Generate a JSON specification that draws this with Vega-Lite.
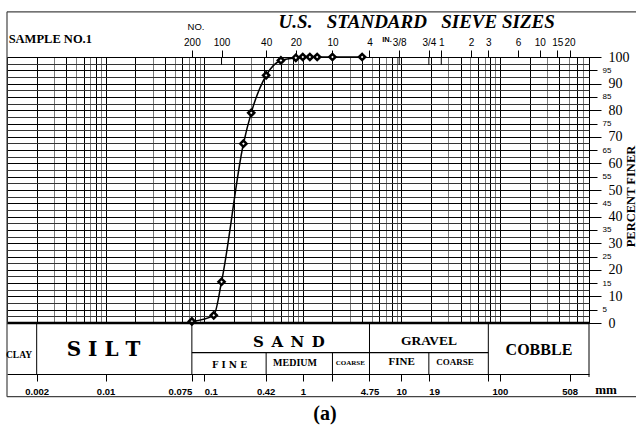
{
  "$schema": "https://vega.github.io/schema/vega-lite/v6.json",
  "width": 582,
  "height": 266,
  "autosize": "none",
  "padding": {"left": 7, "top": 57, "right": 47, "bottom": 107},
  "background": "white",
  "config": {
    "view": {"stroke": "black", "strokeWidth": 1},
    "axis": {"labelColor": "black", "tickColor": "black", "domainColor": "black", "titleColor": "black"}
  },
  "datasets": {
    "sieve": [
      {"size_mm": 0.075, "percent_finer": 0.6},
      {"size_mm": 0.125, "percent_finer": 2.9},
      {"size_mm": 0.15, "percent_finer": 15.5},
      {"size_mm": 0.25, "percent_finer": 67.4},
      {"size_mm": 0.3, "percent_finer": 79},
      {"size_mm": 0.425, "percent_finer": 93.1},
      {"size_mm": 0.6, "percent_finer": 98.7},
      {"size_mm": 0.85, "percent_finer": 99.7},
      {"size_mm": 1.0, "percent_finer": 100},
      {"size_mm": 1.18, "percent_finer": 100},
      {"size_mm": 1.4, "percent_finer": 100},
      {"size_mm": 2.0, "percent_finer": 100},
      {"size_mm": 4.0, "percent_finer": 100}
    ],
    "wide_labels": [
      {"label": "S I L T", "zone": "silt", "size_mm": 0.00952, "pct": -10},
      {"label": "S\u2002A\u2002N\u2002D", "zone": "sand", "size_mm": 0.724, "pct": -7.25},
      {"label": "F I N E", "zone": "sandfine", "size_mm": 0.1806, "pct": -15.8}
    ],
    "serif_labels": [
      {"label": "CLAY", "zone": "clay", "size_mm": 0.001323, "pct": -12.1},
      {"label": "MEDIUM", "zone": "sandmed", "size_mm": 0.834, "pct": -15.0},
      {"label": "COARSE", "zone": "sandcoarse", "size_mm": 3.03, "pct": -14.85},
      {"label": "GRAVEL", "zone": "gravel", "size_mm": 19.05, "pct": -6.95},
      {"label": "FINE", "zone": "gravelfine", "size_mm": 10.07, "pct": -14.5},
      {"label": "COARSE", "zone": "gravelcoarse", "size_mm": 34.97, "pct": -14.5},
      {"label": "COBBLE", "zone": "cobble", "size_mm": 248.6, "pct": -10.3},
      {"label": "mm", "zone": "unit", "size_mm": 1189, "pct": -25.2},
      {"label": "(a)", "zone": "caption", "size_mm": 1.68, "pct": -34.2},
      {"label": "SAMPLE NO.1", "zone": "sample", "size_mm": 0.00275, "pct": 106.8}
    ],
    "full_bounds": [{"size_mm": 0.002}, {"size_mm": 0.075}, {"size_mm": 4.75}, {"size_mm": 76.2}],
    "half_bounds": [{"size_mm": 0.425}, {"size_mm": 2.0}, {"size_mm": 19}],
    "long_ticks": [{"size_mm": 0.15}, {"size_mm": 9.5}, {"size_mm": 19}, {"size_mm": 25.4}]
  },
  "layer": [
    {
      "data": {"name": "sieve"},
      "mark": {"type": "point", "opacity": 0},
      "encoding": {
        "x": {
          "field": "size_mm", "type": "quantitative",
          "scale": {"type": "log", "domain": [0.001, 800], "nice": false},
          "axis": {
            "orient": "bottom", "title": null, "labels": false, "ticks": false, "domain": false,
            "grid": true, "gridWidth": 1, "gridOpacity": 1,
            "values": [0.001,0.002,0.003,0.004,0.005,0.006,0.007,0.008,0.009,0.01,0.02,0.03,0.04,0.05,0.06,0.07,0.08,0.09,0.1,0.2,0.3,0.4,0.5,0.6,0.7,0.8,0.9,1,2,3,4,5,6,7,8,9,10,20,30,40,50,60,70,80,90,100,200,300,400,500,600,700,800],
            "gridColor": {
              "condition": {"test": "indexof([0.003,0.005,0.007,0.009,0.03,0.05,0.07,0.09,0.3,0.5,0.7,0.9,3,5,7,9,30,50,70,90,300,500,700], datum.value) >= 0", "value": "#7a7a7a"},
              "value": "black"
            }
          }
        },
        "y": {
          "field": "percent_finer", "type": "quantitative",
          "scale": {"domain": [0, 100], "nice": false, "zero": false},
          "axis": {
            "orient": "right", "title": null, "labels": false, "ticks": false, "domain": false,
            "grid": true, "gridColor": "#333", "gridWidth": 1,
            "values": [2.5,7.5,12.5,17.5,22.5,27.5,32.5,37.5,42.5,47.5,52.5,57.5,62.5,67.5,72.5,77.5,82.5,87.5,92.5,97.5]
          }
        }
      }
    },
    {
      "data": {"name": "sieve"},
      "mark": {"type": "line", "color": "black", "strokeWidth": 1.5, "interpolate": "monotone"},
      "encoding": {
        "x": {
          "field": "size_mm", "type": "quantitative",
          "axis": {
            "orient": "bottom", "offset": 51, "title": null, "grid": false,
            "domain": true, "domainColor": "black", "domainWidth": 1,
            "tickSize": 7, "tickColor": "black",
            "values": [0.002, 0.01, 0.075, 0.1, 0.42, 1, 2, 4.75, 10, 19, 76.2, 100, 508],
            "labelExpr": "datum.value == 2 || datum.value == 76.2 ? '' : '' + datum.value",
            "labelFont": "Liberation Sans", "labelFontWeight": "bold", "labelFontSize": 9.5,
            "labelPadding": 5, "labelOverlap": false, "labelFlush": false, "labelBound": false,
            "labelAlign": {
              "condition": [
                {"test": "datum.value == 0.075", "value": "right"},
                {"test": "datum.value == 0.1 || datum.value == 19", "value": "left"}
              ],
              "value": "center"
            }
          }
        },
        "y": {
          "field": "percent_finer", "type": "quantitative",
          "axis": {
            "orient": "right", "title": "PERCENT FINER",
            "values": [0,5,10,15,20,25,30,35,40,45,50,55,60,65,70,75,80,85,90,95,100],
            "grid": true, "gridColor": "black", "gridWidth": 1,
            "domain": false, "tickColor": "black",
            "tickSize": {"condition": {"test": "datum.value % 10 === 0", "value": 12}, "value": 8},
            "labelFont": {"condition": {"test": "datum.value % 10 === 0", "value": "Liberation Serif"}, "value": "Liberation Sans"},
            "labelFontSize": {"condition": {"test": "datum.value % 10 === 0", "value": 14}, "value": 8},
            "labelPadding": {"condition": {"test": "datum.value % 10 === 0", "value": 7}, "value": 5},
            "labelBaseline": "middle", "labelOverlap": false, "labelFlush": false, "labelBound": false,
            "titleFont": "Liberation Serif", "titleFontWeight": "bold", "titleFontSize": 12.5,
            "titleAngle": 270, "titleX": 35, "titleY": 139, "titleAlign": "center", "titleBaseline": "top"
          }
        }
      }
    },
    {
      "data": {"name": "sieve"},
      "mark": {"type": "point", "shape": "diamond", "filled": true, "fill": "white", "stroke": "black", "strokeWidth": 2.5, "size": 38, "opacity": 1},
      "encoding": {
        "x": {"field": "size_mm", "type": "quantitative", "axis": null},
        "y": {"field": "percent_finer", "type": "quantitative", "axis": null}
      }
    },
    {
      "data": {"name": "sieve"},
      "mark": {"type": "point", "opacity": 0},
      "encoding": {
        "x": {
          "field": "size_mm", "type": "quantitative",
          "axis": {
            "orient": "top", "title": null, "grid": false, "domain": false,
            "tickSize": 7, "tickColor": "black",
            "values": [0.075, 0.15, 0.425, 0.85, 2, 4.75, 9.5, 19, 25.4, 50.8, 76.2, 152.4, 254, 381, 508],
            "labelExpr": "['200','100','40','20','10','4','3/8','3/4','1','2','3','6','10','15','20'][indexof([0.075, 0.15, 0.425, 0.85, 2, 4.75, 9.5, 19, 25.4, 50.8, 76.2, 152.4, 254, 381, 508], datum.value)]",
            "labelFont": "Liberation Sans", "labelFontSize": 10, "labelPadding": 3,
            "labelOverlap": false, "labelFlush": false, "labelBound": false
          }
        },
        "y": {"field": "percent_finer", "type": "quantitative", "axis": null}
      }
    },
    {
      "data": {"name": "long_ticks"},
      "mark": {"type": "rule", "color": "black", "strokeWidth": 1},
      "encoding": {
        "x": {"field": "size_mm", "type": "quantitative", "axis": null},
        "y": {"datum": 97, "type": "quantitative", "axis": null},
        "y2": {"datum": 100}
      }
    },
    {
      "data": {"values": [{}]},
      "mark": {"type": "rule", "color": "black", "strokeWidth": 2.5},
      "encoding": {
        "x": {"datum": 0.001, "type": "quantitative", "axis": null},
        "x2": {"datum": 800},
        "y": {"datum": 0, "type": "quantitative", "axis": null}
      }
    },
    {
      "data": {"values": [{}]},
      "mark": {"type": "rule", "color": "black", "strokeWidth": 1.2},
      "encoding": {
        "x": {"datum": 0.075, "type": "quantitative", "axis": null},
        "x2": {"datum": 76.2},
        "y": {"datum": -11.1, "type": "quantitative", "axis": null}
      }
    },
    {
      "data": {"name": "full_bounds"},
      "mark": {"type": "rule", "color": "black", "strokeWidth": 1},
      "encoding": {
        "x": {"field": "size_mm", "type": "quantitative", "axis": null},
        "y": {"datum": 0, "type": "quantitative", "axis": null},
        "y2": {"datum": -19.2}
      }
    },
    {
      "data": {"name": "half_bounds"},
      "mark": {"type": "rule", "color": "black", "strokeWidth": 1},
      "encoding": {
        "x": {"field": "size_mm", "type": "quantitative", "axis": null},
        "y": {"datum": -11.1, "type": "quantitative", "axis": null},
        "y2": {"datum": -19.2}
      }
    },
    {
      "data": {"values": [{}]},
      "mark": {"type": "rule", "color": "black", "strokeWidth": 1},
      "encoding": {
        "x": {"datum": 800, "type": "quantitative", "axis": null},
        "y": {"datum": 0, "type": "quantitative", "axis": null},
        "y2": {"datum": -20.3}
      }
    },
    {
      "data": {"values": [{}]},
      "mark": {"type": "rule", "color": "#444", "strokeWidth": 1.2},
      "encoding": {
        "x": {"datum": 0.001, "type": "quantitative", "axis": null},
        "x2": {"datum": 100000},
        "y": {"datum": 117, "type": "quantitative", "axis": null}
      }
    },
    {
      "data": {"values": [{}]},
      "mark": {"type": "rule", "color": "#444", "strokeWidth": 1.2},
      "encoding": {
        "x": {"datum": 0.001, "type": "quantitative", "axis": null},
        "x2": {"datum": 100000},
        "y": {"datum": -27.7, "type": "quantitative", "axis": null}
      }
    },
    {
      "data": {"values": [{}]},
      "mark": {"type": "rule", "color": "#444", "strokeWidth": 1.2},
      "encoding": {
        "x": {"datum": 0.001, "type": "quantitative", "axis": null},
        "y": {"datum": 117, "type": "quantitative", "axis": null},
        "y2": {"datum": -27.7}
      }
    },
    {
      "data": {"name": "wide_labels"},
      "mark": {"type": "text", "font": "DejaVu Serif", "fontWeight": "bold", "color": "black", "align": "center", "baseline": "middle"},
      "encoding": {
        "x": {"field": "size_mm", "type": "quantitative", "axis": null},
        "y": {"field": "pct", "type": "quantitative", "axis": null},
        "text": {"field": "label"},
        "size": {"field": "zone", "type": "nominal", "legend": null,
                 "scale": {"type": "ordinal", "domain": ["silt", "sand", "sandfine"], "range": [20, 15, 9]}}
      }
    },
    {
      "data": {"name": "serif_labels"},
      "mark": {"type": "text", "font": "Liberation Serif", "fontWeight": "bold", "color": "black", "align": "center", "baseline": "middle"},
      "encoding": {
        "x": {"field": "size_mm", "type": "quantitative", "axis": null},
        "y": {"field": "pct", "type": "quantitative", "axis": null},
        "text": {"field": "label"},
        "size": {"field": "zone", "type": "nominal", "legend": null,
                 "scale": {"type": "ordinal",
                           "domain": ["clay", "sandmed", "sandcoarse", "gravel", "gravelfine", "gravelcoarse", "cobble", "unit", "caption", "sample"],
                           "range": [9.5, 10, 7, 13.5, 11, 9, 16, 13, 20, 12.5]}}
      }
    },
    {
      "data": {"values": [{"label": "U.S.\u2002 STANDARD\u2002 SIEVE SIZES", "size_mm": 14.29, "pct": 113}]},
      "mark": {"type": "text", "font": "Liberation Serif", "fontWeight": "bold", "fontStyle": "italic", "fontSize": 19, "color": "black", "align": "center", "baseline": "middle"},
      "encoding": {
        "x": {"field": "size_mm", "type": "quantitative", "axis": null},
        "y": {"field": "pct", "type": "quantitative", "axis": null},
        "text": {"field": "label"}
      }
    },
    {
      "data": {"values": [{"label": "NO.", "size_mm": 0.0826, "pct": 111.4}]},
      "mark": {"type": "text", "font": "Liberation Sans", "fontSize": 9.5, "color": "black", "align": "center", "baseline": "middle"},
      "encoding": {
        "x": {"field": "size_mm", "type": "quantitative", "axis": null},
        "y": {"field": "pct", "type": "quantitative", "axis": null},
        "text": {"field": "label"}
      }
    },
    {
      "data": {"values": [{"label": "IN.", "size_mm": 7.14, "pct": 106.4}]},
      "mark": {"type": "text", "font": "Liberation Sans", "fontWeight": "bold", "fontSize": 7.5, "color": "black", "align": "center", "baseline": "middle"},
      "encoding": {
        "x": {"field": "size_mm", "type": "quantitative", "axis": null},
        "y": {"field": "pct", "type": "quantitative", "axis": null},
        "text": {"field": "label"}
      }
    }
  ],
  "resolve": {"axis": {"x": "independent", "y": "independent"}, "scale": {"size": "independent"}}
}
